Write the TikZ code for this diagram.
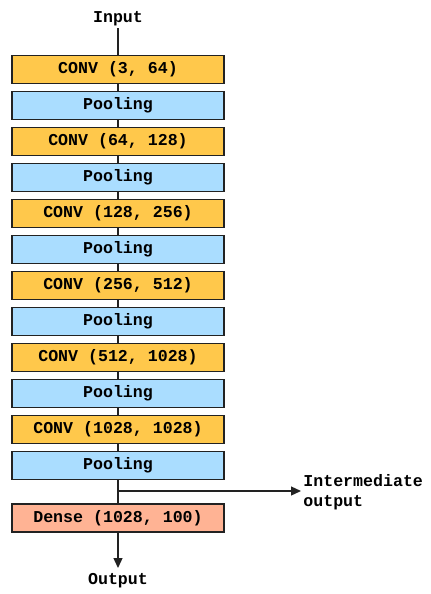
\documentclass[tikz,border=0pt]{standalone}
\usepackage{fontspec}
\setmonofont{Liberation Mono}
\usetikzlibrary{arrows.meta}
\definecolor{convc}{HTML}{FFC84B}
\definecolor{poolc}{HTML}{AADDFF}
\definecolor{densec}{HTML}{FFB394}
\definecolor{linec}{HTML}{222222}
\begin{document}
\begin{tikzpicture}[x=0.5pt,y=-0.5pt,
  txt/.style={font=\ttfamily\bfseries\fontsize{8.3}{10}\selectfont},
  layer/.style={txt,draw=linec,line width=0.65pt,minimum width=106pt,minimum height=14pt,inner sep=0pt},
  conv/.style={layer,fill=convc},
  pool/.style={layer,fill=poolc},
  dense/.style={layer,fill=densec},
  lbl/.style={txt,inner sep=1pt},
  conn/.style={draw=linec,line width=0.65pt},
  arr/.style={conn,-{Triangle[length=5pt,width=4.5pt]}}]
\useasboundingbox (0,0) rectangle (430,594);
\node[lbl] (in) at (118,19) {Input};
\node[conv] (c1) at (118,69.5) {CONV (3, 64)};
\node[pool] (p1) at (118,105.5) {Pooling};
\node[conv] (c2) at (118,141.5) {CONV (64, 128)};
\node[pool] (p2) at (118,177.5) {Pooling};
\node[conv] (c3) at (118,213.5) {CONV (128, 256)};
\node[pool] (p3) at (118,249.5) {Pooling};
\node[conv] (c4) at (118,285.5) {CONV (256, 512)};
\node[pool] (p4) at (118,321.5) {Pooling};
\node[conv] (c5) at (118,357.5) {CONV (512, 1028)};
\node[pool] (p5) at (118,393.5) {Pooling};
\node[conv] (c6) at (118,429.5) {CONV (1028, 1028)};
\node[pool] (p6) at (118,465.5) {Pooling};
\node[dense] (d) at (118,518) {Dense (1028, 100)};
\node[lbl] (out) at (118,581) {Output};
\node[lbl,anchor=west,align=left] (im) at (301,492) {Intermediate\\output};
\coordinate (br) at (118,491);
\draw[conn] (118,28) -- (c1.north);
\draw[conn] (c1) -- (p1);
\draw[conn] (p1) -- (c2);
\draw[conn] (c2) -- (p2);
\draw[conn] (p2) -- (c3);
\draw[conn] (c3) -- (p3);
\draw[conn] (p3) -- (c4);
\draw[conn] (c4) -- (p4);
\draw[conn] (p4) -- (c5);
\draw[conn] (c5) -- (p5);
\draw[conn] (p5) -- (c6);
\draw[conn] (c6) -- (p6);
\draw[conn] (p6) -- (d);
\draw[arr] (br) -- (br -| im.west);
\draw[arr] (d.south) -- (118,568);
\end{tikzpicture}
\end{document}
